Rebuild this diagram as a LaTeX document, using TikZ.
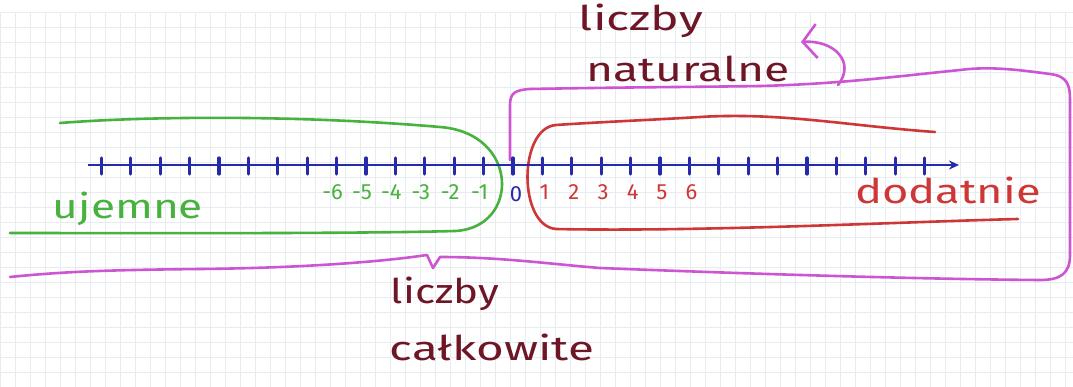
\documentclass[tikz,border=0pt]{standalone}
\usepackage{fontspec}
\usepackage{graphicx}
\setmainfont{Fira Sans}
\usetikzlibrary{arrows.meta}
\definecolor{pgreen}{RGB}{72,178,62}
\definecolor{pred}{RGB}{205,55,55}
\definecolor{pmag}{RGB}{205,85,210}
\definecolor{pblue}{RGB}{38,42,170}
\definecolor{inkmaroon}{RGB}{110,22,38}
\definecolor{gridc}{RGB}{232,236,240}
\newcommand\hwtext[2]{\scalebox{#1}[1]{#2}}
\tikzset{
  loopline/.style={line width=2.6pt, line cap=round, line join=round},
  axisline/.style={pblue, line width=2.6pt, -{Stealth[length=10pt,width=9pt]}},
  tickmark/.style={pblue, line width=3.2pt, line cap=round},
  numlab/.style={font=\fontsize{22}{22}\selectfont, inner sep=0pt, anchor=base},
  word/.style={font=\fontsize{34}{34}\selectfont, inner sep=0pt, anchor=base},
}
\begin{document}
\begin{tikzpicture}[x=1pt,y=-1pt]
\useasboundingbox (0,0) rectangle (1073,387);
\fill[white] (0,0) rectangle (1073,387);
% faint paper grid
\foreach \gx in {0,15,...,1073} \draw[gridc, line width=0.6pt] (\gx,12) -- (\gx,387);
\foreach \gy in {12,27,...,387} \draw[gridc, line width=0.6pt] (0,\gy) -- (1073,\gy);

% magenta loop (liczby całkowite / naturalne)
\draw[pmag, loopline] (510,160) -- (510,105) .. controls (510,93) and (515,90) .. (530,89)
  .. controls (640,87) and (700,87) .. (760,86)
  .. controls (840,84) and (900,76) .. (960,70)
  .. controls (990,66) and (1020,70) .. (1050,74)
  .. controls (1068,76) and (1070,86) .. (1070,100) -- (1070,255)
  .. controls (1070,274) and (1060,280) .. (1040,280)
  .. controls (900,279) and (700,272) .. (600,268)
  .. controls (550,264) and (500,257) .. (440,257) -- (433,268) -- (427,255)
  .. controls (380,262) and (300,268) .. (200,269)
  .. controls (100,270) and (60,272) .. (10,277);
% magenta curl arrow
\coordinate (curlstart) at (838,85);
\coordinate (curltip) at (801,42);
\draw[pmag, line width=2.6pt, line cap=round, -{Straight Barb[length=14pt,width=34pt]}]
  (curlstart) .. controls (856,62) and (834,40) .. (curltip);

% green loop (ujemne)
\draw[pgreen, loopline] (60,123) .. controls (150,116) and (300,115) .. (440,127)
  .. controls (520,133) and (520,228) .. (455,231)
  .. controls (350,234) and (100,233) .. (10,233);

% red loop (dodatnie)
\draw[pred, loopline] (935,132) .. controls (850,126) and (780,112) .. (700,117)
  .. controls (650,120) and (600,122) .. (556,125)
  .. controls (518,128) and (518,226) .. (556,229)
  .. controls (700,232) and (900,222) .. (1018,219);

% number line
\coordinate (axL) at (88,165);
\coordinate (axR) at (959,165);
\draw[axisline] (axL) -- (axR);
\foreach \i in {-14,...,14} \draw[tickmark] ({513+29.4*\i},158) -- ({513+29.4*\i},174);

% tick labels
\foreach \n in {1,...,6} \node[numlab, text=pred] (p\n) at ({515+29.4*\n},200) {\n};
\foreach \n in {1,...,6} \node[numlab, text=pgreen] (m\n) at ({509-29.4*\n},200) {-\n};
\node[numlab, text=pblue] (zero) at (516,202) {0};

% words
\node[word, text=pgreen] (ujemne) at (128,219) {\hwtext{1.3}{ujemne}};
\node[word, text=pred] (dodatnie) at (948,204) {\hwtext{1.33}{dodatnie}};
\node[word, text=inkmaroon] (lnat) at (641,31) {\hwtext{1.42}{liczby}};
\node[word, text=inkmaroon] (nat) at (688,82) {\hwtext{1.36}{naturalne}};
\node[word, text=inkmaroon] (lcal) at (445,303) {\hwtext{1.24}{liczby}};
\node[word, text=inkmaroon] (cal) at (492,360) {\hwtext{1.4}{całkowite}};
\end{tikzpicture}
\end{document}
